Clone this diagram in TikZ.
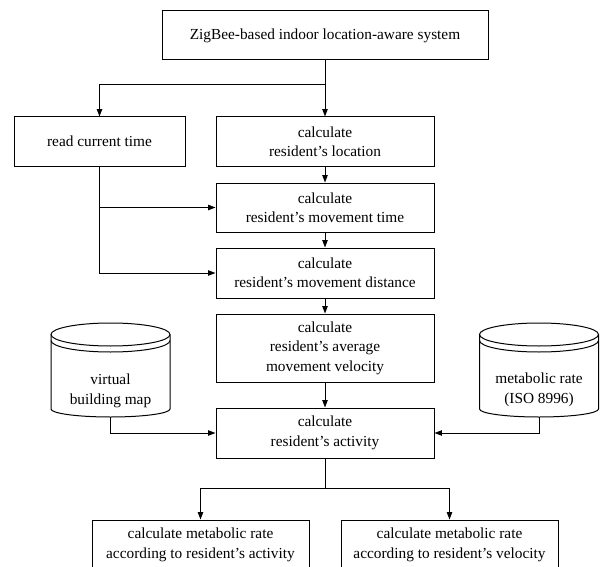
\documentclass[tikz,border=0pt]{standalone}
\usepackage{fontspec}
\setmainfont{Liberation Serif}
\usetikzlibrary{arrows.meta}

\tikzset{every picture/.style={line width=0.75pt}}
\tikzset{
	box/.style={draw, rectangle, inner sep=0pt, align=center, minimum width=163.5pt, minimum height=36.75pt, font=\fontsize{11.5}{14.6}\selectfont},
	txt/.style={inner sep=0pt, align=center, font=\fontsize{11.5}{14.6}\selectfont},
	arr/.style={-{Triangle[length=5.5pt,width=4pt]}}
}

\begin{document}
\begin{tikzpicture}[x=0.75pt,y=0.75pt,yscale=-1,xscale=1]
	\useasboundingbox (0,0) rectangle (600,567);

	\node (sys) [box, minimum width=244.5pt] at (325,35.5) {ZigBee-based indoor location-aware system};
	\node (rtime) [box, minimum width=128.25pt] at (99.5,141.5) {read current time};
	\node (loc) [box] at (325,141.5) {calculate\\resident’s location};
	\node (mtime) [box] at (325,207.5) {calculate\\resident’s movement time};
	\node (mdist) [box, minimum height=37.5pt] at (325,273) {calculate\\resident’s movement distance};
	\node (vel) [box, minimum height=51pt] at (325,348) {calculate\\resident’s average\\movement velocity};
	\node (act) [box, minimum height=37.5pt] at (325,433) {calculate\\resident’s activity};
	\node (mact) [box, minimum width=162.75pt, minimum height=37.5pt] at (200.5,545) {calculate metabolic rate\\according to resident’s activity};
	\node (mvel) [box, minimum width=162.75pt, minimum height=37.5pt] at (449.5,545) {calculate metabolic rate\\according to resident’s velocity};

	\foreach \cx in {110.5,539} {
		\draw (\cx,334.5) ellipse [x radius=59.5, y radius=11.5];
		\draw (\cx-59.5,340.5) arc [start angle=180, end angle=0, x radius=59.5, y radius=11.5];
		\draw (\cx-59.5,334.5) -- (\cx-59.5,409) arc [start angle=180, end angle=0, x radius=59.5, y radius=8] -- (\cx+59.5,334.5);
	}
	\node (vbm) [txt] at (110.5,391) {virtual\\building map};
	\node (iso) [txt] at (539,390) {metabolic rate\\(ISO 8996)};
	\coordinate (vbm-b) at (110.5,417);
	\coordinate (iso-b) at (539,417);

	\coordinate (fork1) at (325,85);
	\coordinate (fork2) at (325,488);

	\draw [arr] (sys.south) -- (loc.north);
	\draw [arr] (fork1) -| (rtime.north);
	\draw [arr] (loc) -- (mtime);
	\draw [arr] (mtime) -- (mdist);
	\draw [arr] (mdist) -- (vel);
	\draw [arr] (vel) -- (act);
	\draw [arr] (rtime.south) |- (mdist.west);
	\draw [arr] (rtime.south |- mtime.west) -- (mtime.west);
	\draw [arr] (vbm-b) |- (act.west);
	\draw [arr] (iso-b) |- (act.east);
	\draw (act.south) -- (fork2);
	\draw [arr] (fork2) -| (mact.north);
	\draw [arr] (fork2) -| (mvel.north);
\end{tikzpicture}
\end{document}
